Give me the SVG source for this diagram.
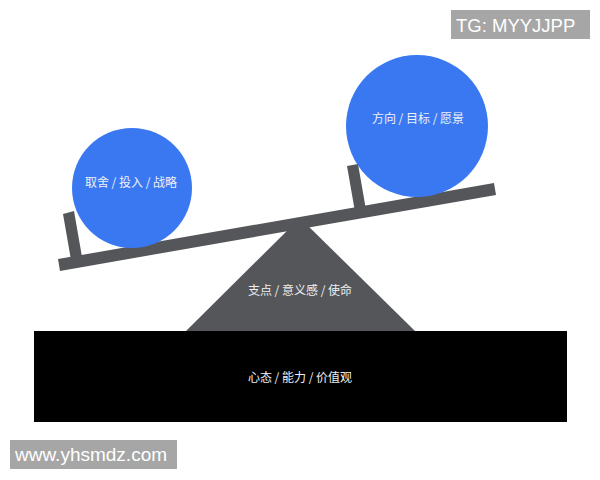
<svg xmlns="http://www.w3.org/2000/svg" width="600" height="480" viewBox="0 0 600 480">
  <style>
    .lbl { font-family: "Noto Sans CJK SC", "Noto Sans", sans-serif; font-size: 12px; fill: #eef0f5; text-anchor: middle; }
    .wm { font-family: "Liberation Sans", Arial, sans-serif; font-size: 18.5px; fill: #ffffff; }
    .gray { fill: #545659; }
    .ball { fill: #3a78f2; }
  </style>
  <rect width="600" height="480" fill="#ffffff"/>
  <g id="base">
    <rect x="34" y="331" width="533" height="91" fill="#000000"/>
    <text class="lbl" x="300" y="382">心态 / 能力 / 价值观</text>
  </g>
  <g id="fulcrum">
    <polygon class="gray" points="300,218 415,331 186,331"/>
    <text class="lbl" x="300" y="295">支点 / 意义感 / 使命</text>
  </g>
  <g id="seesaw">
    <polygon class="gray" points="63,214 74,211 82.6,260.3 71.6,263.3"/>
    <polygon class="gray" points="347,166 358,164 366.6,213.3 355.6,215.3"/>
    <polygon class="gray" points="58,259.1 494,183.1 496,194.9 60,270.9"/>
  </g>
  <g id="left-ball">
    <circle class="ball" cx="132" cy="188" r="60"/>
    <text class="lbl" x="131" y="187">取舍 / 投入 / 战略</text>
  </g>
  <g id="right-ball">
    <circle class="ball" cx="417" cy="126" r="71"/>
    <text class="lbl" x="418" y="123">方向 / 目标 / 愿景</text>
  </g>
  <g id="watermark-top">
    <rect x="451" y="10" width="139" height="29" fill="#a6a6a6"/>
    <text class="wm" x="456" y="32">TG: MYYJJPP</text>
  </g>
  <g id="watermark-bottom">
    <rect x="10" y="440" width="167" height="29" fill="#a6a6a6"/>
    <text class="wm" x="15" y="461" style="font-size:19px">www.yhsmdz.com</text>
  </g>
</svg>
